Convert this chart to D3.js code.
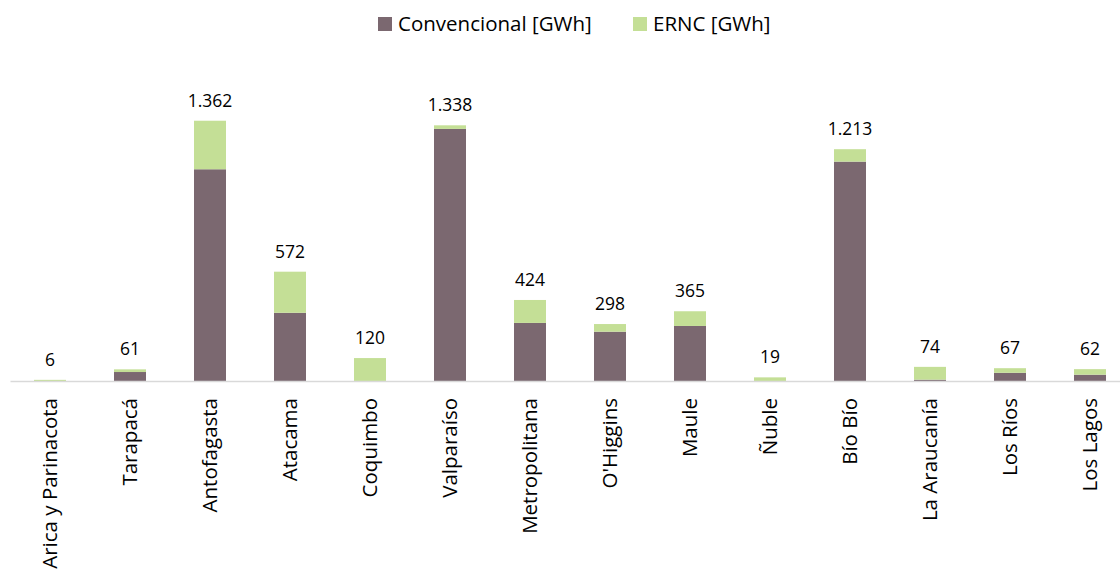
<!DOCTYPE html>
<html><head><meta charset="utf-8">
<script src="https://cdn.jsdelivr.net/npm/d3@7"></script>
<style>body{margin:0;background:#fff}text{font-family:"Open Sans",sans-serif;fill:#000}</style>
</head><body><svg id="c" width="1120" height="571"></svg>
<script>
const categories = ["Arica y Parinacota","Tarapacá","Antofagasta","Atacama","Coquimbo","Valparaíso","Metropolitana","O'Higgins","Maule","Ñuble","Bío Bío","La Araucanía","Los Ríos","Los Lagos"];
const convencional = [0, 47, 1108, 357, 0, 1319, 304, 258, 288, 0, 1148, 7, 43, 33];
const ernc = [6, 14, 254, 215, 120, 19, 120, 40, 77, 19, 65, 67, 24, 29];
const totals = [6, 61, 1362, 572, 120, 1338, 424, 298, 365, 19, 1213, 74, 67, 62];
const seriesNames = ["Convencional [GWh]", "ERNC [GWh]"];
const colors = ["#7B6870", "#C4DF96"];

const svg = d3.select("#c");
const x = d3.scaleBand().domain(categories).range([10, 1130]).paddingInner(0.6).paddingOuter(0.3);
const y = d3.scaleLinear().domain([0, 1400]).range([381, 381 - 1400 * 0.1911]);

const data = categories.map((c, i) => ({cat: c, Convencional: convencional[i], ERNC: ernc[i], total: totals[i]}));
const stack = d3.stack().keys(["Convencional", "ERNC"])(data);

svg.append("g").selectAll("g").data(stack).join("g")
  .attr("fill", (d, i) => colors[i])
  .selectAll("rect").data(d => d).join("rect")
  .attr("x", d => x(d.data.cat))
  .attr("width", x.bandwidth())
  .attr("y", d => y(d[1]))
  .attr("height", d => y(d[0]) - y(d[1]));

// axis
const ax = svg.append("g").attr("transform", "translate(0,381)")
  .call(d3.axisBottom(x).tickSize(0).tickPadding(0));
ax.select(".domain").attr("stroke", "#d9d9d9").attr("stroke-width", 1.5);
ax.selectAll(".tick text")
  .attr("transform", "rotate(-90)")
  .attr("x", -17).attr("y", 0).attr("dy", "0.35em")
  .attr("text-anchor", "end")
  .style("font-size", "20.5px").style("font-family", "'Open Sans',sans-serif").attr("fill", "#000");

// value labels
svg.append("g").selectAll("text").data(data).join("text")
  .attr("x", d => x(d.cat) + x.bandwidth() / 2)
  .attr("y", d => y(d.total) - 14)
  .attr("text-anchor", "middle")
  .style("font-size", "17.5px")
  .text(d => d3.format(",")(d.total).replace(/,/g, "."));

// legend
const leg = svg.append("g");
const legX = [378, 633];
seriesNames.forEach((n, i) => {
  leg.append("rect").attr("x", legX[i]).attr("y", 17).attr("width", 14).attr("height", 14).attr("fill", colors[i]);
  leg.append("text").attr("x", legX[i] + 20).attr("y", 31).style("font-size", "20.5px").text(n);
});
</script></body></html>
